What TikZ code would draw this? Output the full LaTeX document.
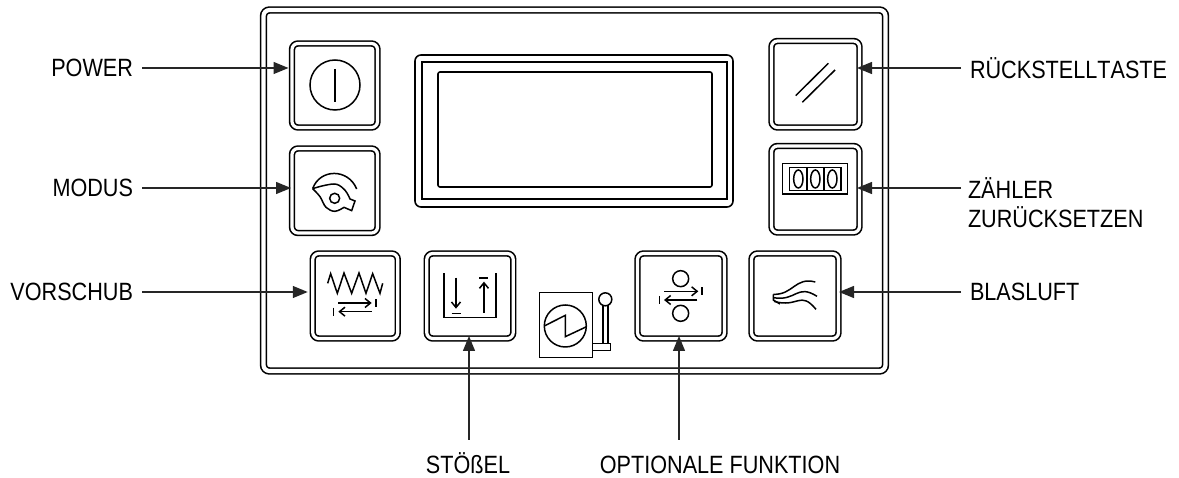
\documentclass[tikz,border=0pt]{standalone}
\usepackage{fontspec}
\usepackage{xcolor}
\usepackage{tikz}
\usetikzlibrary{arrows.meta}
\setmainfont[FakeStretch=0.865]{Liberation Sans}

\tikzset{
    keybox/.style={draw, rounded corners=6pt, double, line width=1.6pt, double distance=3.2pt, outer sep=3.5pt, minimum width=86pt, minimum height=85pt},
    labeltext/.style={inner sep=0pt, outer sep=9pt, align=left, font=\fontsize{25}{29}\selectfont},
    callout/.style={-{Triangle[length=15pt,width=12pt]}, line width=1.3pt, black!85},
    iconline/.style={line width=1.5pt},
    iconarrow/.style={iconline, -{Straight Barb[length=5.5pt,width=9pt]}}
}

\begin{document}
\begin{tikzpicture}[x=1pt, y=-1pt]
    \useasboundingbox (0, 0) rectangle (1179, 478);

    % Panel
    \node[draw, rounded corners=6pt, double, line width=1.6pt, double distance=4.2pt, minimum width=622pt, minimum height=361pt] (panel) at (574.5, 190.5) {};

    % Display
    \node[draw, rounded corners=6pt, line width=1.6pt, minimum width=318pt, minimum height=152pt] (displayouter) at (574, 131) {};
    \node[draw, line width=1.6pt, minimum width=305pt, minimum height=137pt] (displaymiddle) at (574.5, 130.5) {};
    \node[draw, rounded corners=2pt, line width=1.6pt, minimum width=274pt, minimum height=115pt] (displayinner) at (575, 129.5) {};

    % Buttons
    \node[keybox, minimum width=85.5pt, minimum height=84pt] (power) at (334.75, 85.5) {};
    \node[keybox, minimum width=85.5pt, minimum height=84.5pt] (modus) at (334.75, 190.75) {};
    \node[keybox, minimum width=85pt] (vorschub) at (355.25, 296) {};
    \node[keybox, minimum width=86.5pt] (stoessel) at (470, 296) {};
    \node[keybox, minimum width=87pt] (optional) at (681, 296) {};
    \node[keybox, minimum width=87pt] (blasluft) at (795, 296) {};
    \node[keybox, minimum width=88pt, minimum height=86.5pt] (reset) at (815.5, 84.25) {};
    \node[keybox, minimum width=88pt, minimum height=86.5pt] (counter) at (815.5, 189.25) {};

    % Power icon
    \node[draw, circle, iconline, minimum size=50pt, inner sep=0pt] (powerring) at (335, 85) {};
    \draw[iconline] (335, 69) -- (335, 102);

    % Modus icon
    \begin{scope}[shift={(270, 0)}, scale=0.3333]
        \draw[iconline] (128, 566) .. controls (150, 505) and (235, 505) .. (260, 567);
        \draw[iconline] plot[smooth, tension=0.6] coordinates {(128, 566) (165, 556) (200, 553) (226, 572) (240, 597)}
            -- (255, 603) -- (245, 632) -- (222, 622)
            plot[smooth, tension=0.6] coordinates {(222, 622) (195, 634) (168, 622) (150, 590) (128, 566)};
        \node[draw, circle, iconline, minimum size=10pt, inner sep=0pt] (modushub) at (194, 595) {};
    \end{scope}

    % Vorschub icon
    \begin{scope}[shift={(280, 230)}, scale=0.3333]
        \draw[iconline] (143, 160) -- (152, 131) -- (172, 190) -- (192, 129) -- (215, 190) -- (237, 129) -- (258, 190) -- (278, 131) -- (300, 190) -- (308, 160);
        \draw[iconarrow] (175, 219) -- (275, 219);
        \draw[iconarrow] (275, 245) -- (175, 245);
        \draw[iconline] (288, 208) -- (288, 232);
        \draw[iconline] (161, 233) -- (161, 257);
    \end{scope}

    % Stoessel icon
    \begin{scope}[shift={(280, 230)}, scale=0.3333]
        \draw[iconline] (492, 130) -- (492, 263) -- (648, 263) -- (648, 130);
        \draw[iconarrow] (528, 143) -- (528, 236);
        \draw[iconarrow] (612, 248) -- (612, 155);
        \draw[iconline] (515, 250) -- (542, 250);
        \draw[iconline] (598, 144) -- (625, 144);
    \end{scope}

    % Lever
    \begin{scope}[shift={(280, 230)}, scale=0.3333]
        \draw[iconline] (778, 187) rectangle (938, 383);
        \node[draw, circle, iconline, minimum size=42pt, inner sep=0pt] (leverdial) at (856, 288) {};
        \draw[iconline] (793, 288) -- (856, 256) -- (856, 320) -- (920, 290);
        \node[draw, circle, iconline, minimum size=13pt, inner sep=0pt] (leverball) at (976, 208) {};
        \draw[iconline] (969, 226) -- (969, 340);
        \draw[iconline] (984, 226) -- (984, 340);
        \draw[iconline] (938, 340) rectangle (992, 362);
    \end{scope}

    % Optional icon
    \begin{scope}[shift={(620, 230)}, scale=0.3333]
        \node[draw, circle, iconline, minimum size=16pt, inner sep=0pt] (rollertop) at (182, 146) {};
        \node[draw, circle, iconline, minimum size=16pt, inner sep=0pt] (rollerbottom) at (182, 250) {};
        \draw[iconarrow] (132, 184) -- (235, 184);
        \draw[iconarrow] (232, 210) -- (132, 210);
        \draw[iconline] (246, 172) -- (246, 196);
        \draw[iconline] (118, 198) -- (118, 222);
    \end{scope}

    % Blasluft icon
    \begin{scope}[shift={(620, 230)}, scale=0.3333]
        \draw[iconline] (460, 193) .. controls (520, 195) and (525, 140) .. (586, 156);
        \draw[iconline] (460, 203) .. controls (530, 215) and (530, 160) .. (591, 199);
        \draw[iconline] (462, 214) .. controls (535, 235) and (540, 180) .. (588, 238);
        \draw[iconline] (460, 193) -- (460, 210) -- (480, 222);
    \end{scope}

    % Reset icon
    \begin{scope}[shift={(750, 0)}, scale=0.3333]
        \draw[iconline] (137, 287) -- (235, 190);
        \draw[iconline] (157, 307) -- (255, 210);
    \end{scope}

    % Counter icon
    \begin{scope}[shift={(750, 0)}, scale=0.3333]
        \draw[iconline] (98, 490) rectangle (292, 582);
        \draw[iconline] (118, 502) rectangle (273, 572);
        \draw[iconline] (171, 502) -- (171, 572);
        \draw[iconline] (222, 502) -- (222, 572);
        \foreach \cx in {145, 196, 247} {
            \draw[iconline] (\cx, 537) ellipse [x radius=14, y radius=27];
        }
    \end{scope}

    % Labels
    \node[labeltext, anchor=east] (powerlabel) at (142, 68) {POWER};
    \node[labeltext, anchor=east] (moduslabel) at (142, 188) {MODUS};
    \node[labeltext, anchor=east] (vorschublabel) at (142, 292) {VORSCHUB};
    \node[labeltext, anchor=west] (resetlabel) at (961, 68) {\addfontfeatures{Kerning=Off}RÜCKSTELLTASTE};
    \node[labeltext, anchor=base west] (counterlabel) at (959, 228) {ZÄHLER\\ZURÜCKSETZEN};
    \node[labeltext, anchor=west] (blasluftlabel) at (961, 292) {BLASLUFT};
    \node[labeltext, anchor=base] (stoessellabel) at (468, 474) {STÖßEL};
    \node[labeltext, anchor=base] (optionallabel) at (720, 474) {OPTIONALE FUNKTION};

    % Free ends
    \coordinate (countertail) at (961, 188);
    \coordinate (stoesseltail) at (469, 440);
    \coordinate (optionaltail) at (679, 440);

    % Arrows
    \draw[callout] (powerlabel.east) -- (powerlabel.east -| power.west);
    \draw[callout, shorten >=-2.5pt] (moduslabel.east) -- (moduslabel.east -| modus.west);
    \draw[callout, shorten >=1.5pt] (vorschublabel.east) -- (vorschublabel.east -| vorschub.west);
    \draw[callout, shorten >=-6pt] (resetlabel.west) -- (resetlabel.west -| reset.east);
    \draw[callout, shorten >=-6pt] (countertail) -- (countertail -| counter.east);
    \draw[callout, shorten >=-3pt] (blasluftlabel.west) -- (blasluftlabel.west -| blasluft.east);
    \draw[callout, shorten >=-6pt] (stoesseltail) -- (stoesseltail |- stoessel.south);
    \draw[callout, shorten >=-6pt] (optionaltail) -- (optionaltail |- optional.south);

\end{tikzpicture}
\end{document}
